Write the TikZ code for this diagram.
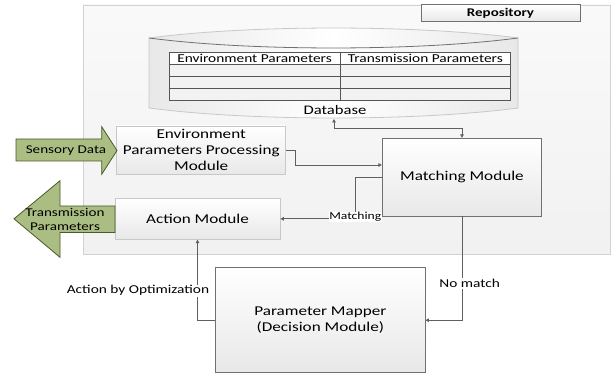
\documentclass[tikz,border=0pt]{standalone}
\usepackage{fontspec}
\setmainfont{Carlito}[FakeStretch=1.27]
\usetikzlibrary{arrows.meta}
\definecolor{conncol}{HTML}{5F5F5F}
\definecolor{bgfill}{HTML}{F1F1F1}
\definecolor{bgline}{HTML}{D2D2D2}
\definecolor{lightline}{HTML}{C8C8C8}
\definecolor{darkline}{HTML}{707070}
\definecolor{boxgray}{HTML}{E8E8E8}
\definecolor{greenfill}{HTML}{AABD82}
\definecolor{greenline}{HTML}{4A5A2A}
\definecolor{tableline}{HTML}{555555}
\tikzset{
  lightbox/.style={draw=lightline, line width=0.8pt, top color=white, bottom color=boxgray, inner sep=0pt, align=center, font=\fontsize{13.5}{16}\selectfont},
  darkbox/.style={draw=darkline, line width=0.9pt, top color=white, bottom color=boxgray, inner sep=0pt, align=center, font=\fontsize{13.5}{16.5}\selectfont},
  conn/.style={draw=conncol, line width=0.9pt, -{Triangle[length=3.5pt,width=3.6pt]}},
  lbl/.style={fill=white, inner sep=1pt, font=\fontsize{12.1}{14}\selectfont},
  bigarrow/.style={fill=greenfill, draw=greenline, line width=0.8pt, line join=miter},
  arrowtext/.style={inner sep=0pt, align=center, font=\fontsize{11.9}{14}\selectfont}
}
\begin{document}
\begin{tikzpicture}[x=1pt,y=-1pt]
\useasboundingbox[fill=white] (0,0) rectangle (613,374);

% repository background
\path[draw=bgline, line width=0.8pt, top color=white!60!bgfill, bottom color=bgfill] (83.5,5) rectangle (610,254.5);
\node[draw=darkline, line width=0.9pt, top color=white, bottom color=boxgray, minimum width=159pt, minimum height=17.2pt, inner sep=0pt, font=\fontsize{11.8}{13}\selectfont\bfseries] (repo) at (500.5,13) {Repository};

% database shape
\path[left color=black!9, right color=black!9, middle color=white]
  (149,38) .. controls (250,24.7) and (417,24.7) .. (518,38)
  -- (518,108) .. controls (417,121.3) and (250,121.3) .. (149,108) -- cycle;
\draw[lightline, line width=0.8pt]
  (149,38) .. controls (250,24.7) and (417,24.7) .. (518,38)
  -- (518,108) .. controls (417,121.3) and (250,121.3) .. (149,108) -- cycle;
\draw[darkline, line width=0.8pt] (149,38) .. controls (250,51.3) and (417,51.3) .. (518,38);
\coordinate (dbb) at (334,119);

% table
\fill[white] (169,52.3) rectangle (510.7,64.3);
\fill[black!5] (169,64.3) rectangle (510.7,100);
\draw[tableline, line width=0.9pt] (169,52.3) rectangle (510.7,100);
\draw[tableline, line width=0.9pt] (169,64.3) -- (510.7,64.3) (169,76.5) -- (510.7,76.5) (169,88.3) -- (510.7,88.3) (340,52.3) -- (340,100);
\node[inner sep=0pt, font=\fontsize{12.1}{13}\selectfont] (hdr1) at (254.5,58.6) {Environment Parameters};
\node[inner sep=0pt, font=\fontsize{12.1}{13}\selectfont] (hdr2) at (425.3,58.6) {Transmission Parameters};
\node[inner sep=0pt, font=\fontsize{13.1}{14}\selectfont] (dblabel) at (335,110) {Database};

% boxes
\node[lightbox, minimum width=169pt, minimum height=48.3pt] (env) at (201.2,150.15) {Environment\\Parameters Processing\\Module};
\node[lightbox, minimum width=165pt, minimum height=41pt] (action) at (197.5,218.8) {Action Module};
\node[darkbox, minimum width=159.4pt, minimum height=77.7pt] (match) at (462,177.15) {Matching Module};
\node[darkbox, minimum width=209.3pt, minimum height=105pt] (mapper) at (320.35,320.2) {Parameter Mapper\\(Decision Module)};

% green arrows
\path[bigarrow] (16,139) -- (101.7,139) -- (101.7,126.7) -- (117,150.5) -- (101.7,174.3) -- (101.7,161) -- (16,161) -- cycle;
\node[arrowtext] (sensory) at (66,150.3) {Sensory Data};
\path[bigarrow] (14,218.8) -- (60,180.7) -- (60,206) -- (115,206) -- (115,232.5) -- (60,232.5) -- (60,257.3) -- cycle;
\node[arrowtext] (trans) at (65,219.5) {Transmission\\Parameters};

% connectors
\draw[conn, {Triangle[length=3.5pt,width=3.6pt]}-{Triangle[length=3.5pt,width=3.6pt]}] (dbb) -- (334,128) -| (match.north);
\draw[conn] (env.east) -- (295,150.15) |- ([yshift=12.15pt]match.west);
\draw[conn] (match.west) -- (355,177.15) -- (355,218.8) -- (action.east);
\node[lbl, font=\fontsize{10.7}{12}\selectfont, inner sep=0.5pt] (matchlbl) at (355.3,216.7) {Matching};
\draw[conn] (match.south) |- (mapper.east);
\node[lbl] (nomatch) at (469.7,283.3) {No match};
\draw[conn] (mapper.west) -| (action.south);
\node[lbl] (optlbl) at (138,290.7) {Action by Optimization};
\end{tikzpicture}
\end{document}
